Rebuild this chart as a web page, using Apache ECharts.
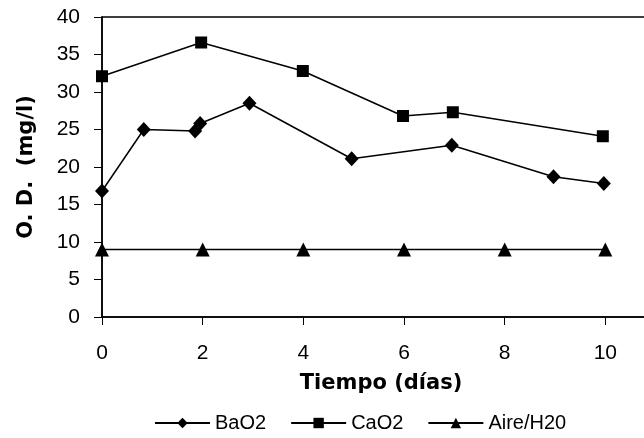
<!DOCTYPE html>
<html>
<head>
<meta charset="utf-8">
<script src="https://cdn.jsdelivr.net/npm/echarts@6/dist/echarts.min.js"></script>
<style>
html,body{margin:0;padding:0;background:#fff;}
#main{width:644px;height:438px;}
</style>
</head>
<body>
<div id="main"></div>
<script>
// datos
var bao2X = [0, 0.83, 1.85, 1.95, 2.93, 4.96, 6.95, 8.97, 9.97];
var bao2Y = [16.8, 25.0, 24.8, 25.8, 28.5, 21.1, 22.9, 18.7, 17.8];
var cao2X = [0, 1.97, 3.99, 5.98, 6.97, 9.95];
var cao2Y = [32.1, 36.6, 32.8, 26.8, 27.3, 24.1];
var aireX = [0, 2, 4, 6, 8, 10];
var aireY = [9, 9, 9, 9, 9, 9];
var seriesNames = ["BaO2", "CaO2", "Aire/H20"];

var pairs = function(xs, ys){
    return xs.map(function(x, i){ return [x, ys[i]]; });
};

var font = "'Liberation Sans', Arial, sans-serif";
var boldFont = "'DejaVu Sans', sans-serif";
var mkSeries = function(name, data, symbol, size){
    return {
        name: name,
        type: 'line',
        data: data,
        symbol: symbol,
        symbolSize: size,
        showAllSymbol: true,
        lineStyle: {color: '#000', width: 1.5},
        itemStyle: {color: '#000', borderColor: '#000', borderWidth: 0},
        animation: false
    };
};

var myChart = echarts.init(document.getElementById('main'));
myChart.setOption({
    animation: false,
    backgroundColor: '#fff',
    title: {
        text: 'Tiempo (días)',
        left: 381,
        top: 373,
        textAlign: 'center',
        padding: 0,
        textStyle: {fontFamily: boldFont, fontSize: 21, fontWeight: 'bold', color: '#000'}
    },
    grid: {
        left: 102,
        top: 17,
        width: 604,
        bottom: 121,
        outerBoundsMode: 'none',
        containLabel: false,
        show: true,
        borderColor: '#000',
        borderWidth: 1.5
    },
    legend: {
        top: 408,
        left: 149,
        itemGap: 24,
        itemWidth: 55,
        itemHeight: 13,
        textStyle: {fontFamily: font, fontSize: 20, color: '#000', padding: [0, 0, 0, 0]},
        data: seriesNames
    },
    xAxis: {
        type: 'value',
        min: 0,
        max: 12,
        interval: 2,
        axisLine: {onZero: false, lineStyle: {color: '#000', width: 1.5}},
        axisTick: {show: true, length: 8, lineStyle: {color: '#000'}},
        splitLine: {show: false},
        axisLabel: {fontFamily: font, fontSize: 21, color: '#000', margin: 26}
    },
    yAxis: {
        type: 'value',
        min: 0,
        max: 40,
        interval: 5,
        name: 'O. D.  (mg/l)',
        nameLocation: 'middle',
        nameGap: 65,
        nameTextStyle: {fontFamily: boldFont, fontSize: 21, fontWeight: 'bold', color: '#000'},
        axisLine: {show: true, lineStyle: {color: '#000', width: 1.5}},
        axisTick: {show: true, length: 8, lineStyle: {color: '#000'}},
        splitLine: {show: false},
        axisLabel: {fontFamily: font, fontSize: 21, color: '#000', margin: 22}
    },
    series: [
        mkSeries(seriesNames[0], pairs(bao2X, bao2Y), 'diamond', [14, 15]),
        mkSeries(seriesNames[1], pairs(cao2X, cao2Y), 'rect', 12),
        mkSeries(seriesNames[2], pairs(aireX, aireY), 'triangle', 14)
    ]
});
</script>
</body>
</html>
